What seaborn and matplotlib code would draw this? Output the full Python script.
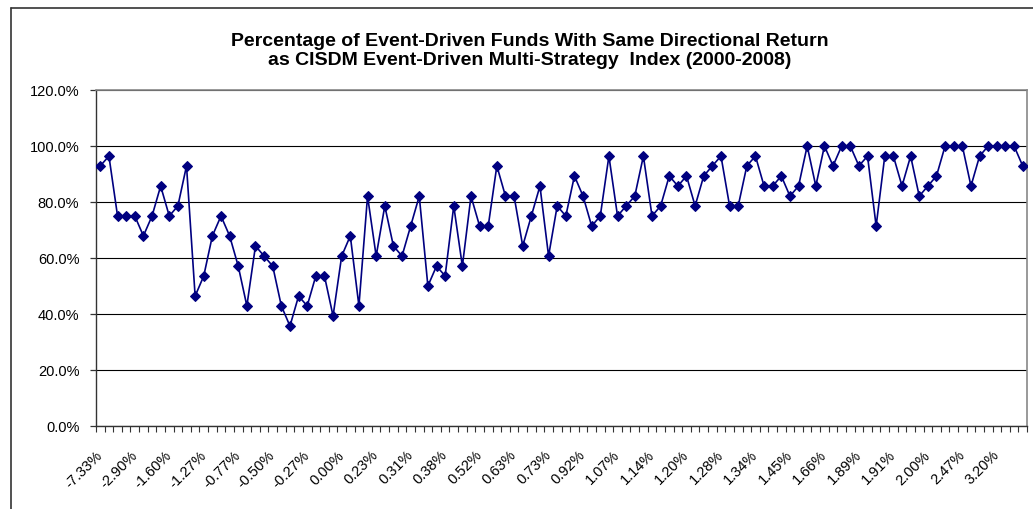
import numpy as np
import pandas as pd
import matplotlib
matplotlib.use('Agg')
import matplotlib.pyplot as plt
from matplotlib.lines import Line2D
from matplotlib.ticker import FixedLocator, FuncFormatter
import seaborn as sns

# valores (% de fondos con el mismo signo que el indice)
pct_same = [
    92.9, 96.4, 75.0, 75.0, 75.0, 67.9, 75.0, 85.7, 75.0, 78.6,
    92.9, 46.4, 53.6, 67.9, 75.0, 67.9, 57.1, 42.9, 64.3, 60.7,
    57.1, 42.9, 35.7, 46.4, 42.9, 53.6, 53.6, 39.3, 60.7, 67.9,
    42.9, 82.1, 60.7, 78.6, 64.3, 60.7, 71.4, 82.1, 50.0, 57.1,
    53.6, 78.6, 57.1, 82.1, 71.4, 71.4, 92.9, 82.1, 82.1, 64.3,
    75.0, 85.7, 60.7, 78.6, 75.0, 89.3, 82.1, 71.4, 75.0, 96.4,
    75.0, 78.6, 82.1, 96.4, 75.0, 78.6, 89.3, 85.7, 89.3, 78.6,
    89.3, 92.9, 96.4, 78.6, 78.6, 92.9, 96.4, 85.7, 85.7, 89.3,
    82.1, 85.7, 100.0, 85.7, 100.0, 92.9, 100.0, 100.0, 92.9, 96.4,
    71.4, 96.4, 96.4, 85.7, 96.4, 82.1, 85.7, 89.3, 100.0, 100.0,
    100.0, 85.7, 96.4, 100.0, 100.0, 100.0, 100.0, 92.9,
]

# etiquetas visibles del eje x (una de cada 4 categorias)
x_labels = ['-7.33%', '-2.90%', '-1.60%', '-1.27%', '-0.77%', '-0.50%',
            '-0.27%', '0.00%', '0.23%', '0.31%', '0.38%', '0.52%', '0.63%',
            '0.73%', '0.92%', '1.07%', '1.14%', '1.20%', '1.28%', '1.34%',
            '1.45%', '1.66%', '1.89%', '1.91%', '2.00%', '2.47%', '3.20%']
label_step = 4

y_ticks = [0, 20, 40, 60, 80, 100, 120]

title = ('Percentage of Event-Driven Funds With Same Directional Return\n'
         'as CISDM Event-Driven Multi-Strategy  Index (2000-2008)')

df = pd.DataFrame({'idx': np.arange(len(pct_same)), 'pct': pct_same})

sns.set_style('white')
plt.rcParams['font.family'] = ['Liberation Sans', 'DejaVu Sans']
plt.rcParams['text.color'] = 'black'
plt.rcParams['xtick.color'] = 'black'
plt.rcParams['ytick.color'] = 'black'

W, H = 1033, 510
fig = plt.figure(figsize=(W / 100, H / 100), dpi=100)
ax = fig.add_axes([96 / W, (H - 427) / H, (1027 - 96) / W, (427 - 91) / H])

# lineas de cuadricula horizontales
for t in y_ticks:
    ax.axhline(t, color='#000000', lw=0.8, zorder=1)

sns.lineplot(data=df, x='idx', y='pct', ax=ax, color='#000080',
             linewidth=1.2, marker='D', markersize=5.5,
             markeredgecolor='#000080', markerfacecolor='#000080', zorder=3)

ax.set_xlim(-0.5, len(pct_same) - 0.5)
ax.set_ylim(0, 120)
ax.set_xlabel('')
ax.set_ylabel('')

ax.set_yticks(y_ticks)
ax.yaxis.set_major_formatter(FuncFormatter(lambda v, p: f'{v:.1f}%'))
ax.tick_params(axis='y', left=True, length=4, width=0.9, color='#333333',
               direction='out', labelsize=10.5, labelcolor='black', pad=8)

pos = np.arange(0, len(pct_same), label_step)
ax.set_xticks(pos)
ax.set_xticklabels(x_labels, rotation=45, ha='right', rotation_mode='anchor',
                   va='center')
ax.tick_params(axis='x', which='major', length=0, labelsize=10.5,
               labelcolor='black', pad=19)
ax.xaxis.set_minor_locator(FixedLocator(np.arange(-0.5, len(pct_same), 1)))
ax.tick_params(axis='x', which='minor', bottom=True, length=4, width=0.8,
               color='#333333', direction='out')

for s in ['left', 'bottom']:
    ax.spines[s].set_color('#333333')
    ax.spines[s].set_linewidth(1.0)
for s in ['top', 'right']:
    ax.spines[s].set_color('#888888')
    ax.spines[s].set_linewidth(1.2)

fig.text(530 / W, 1 - 51 / H, title, ha='center', va='center', color='black',
         fontsize=14, fontweight='bold', linespacing=1.15)

# borde del area del grafico
fig.add_artist(Line2D([11 / W, 11 / W], [0, 1 - 9 / H], transform=fig.transFigure,
                      color='#333333', lw=1.2))
fig.add_artist(Line2D([11 / W, 1], [1 - 9 / H, 1 - 9 / H], transform=fig.transFigure,
                      color='#333333', lw=1.2))

fig.savefig('out.png', dpi=100)
